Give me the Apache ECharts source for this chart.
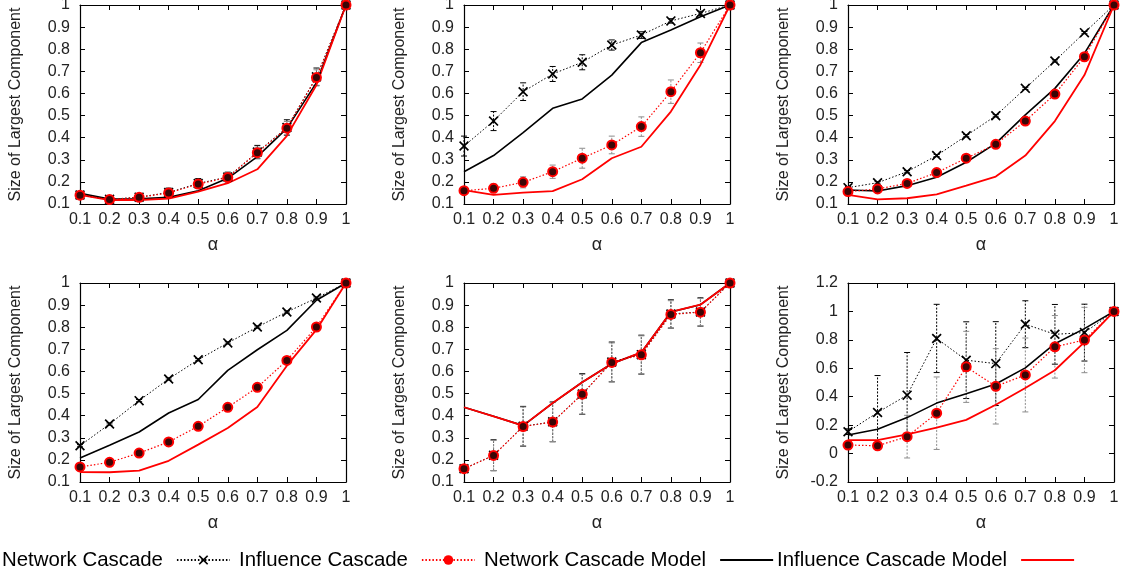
<!DOCTYPE html>
<html>
<head>
<meta charset="utf-8">
<script src="https://cdn.jsdelivr.net/npm/echarts@6/dist/echarts.min.js"></script>
<style>
html, body { margin: 0; padding: 0; background: #fff; }
#chart { width: 1121px; height: 575px; }
</style>
</head>
<body>
<div id="chart"></div>
<script>
// x values shared by every panel
const alpha = [0.1, 0.2, 0.3, 0.4, 0.5, 0.6, 0.7, 0.8, 0.9, 1.0];

// Panel 1
const net1      = [0.141, 0.121, 0.131, 0.152, 0.193, 0.222, 0.335, 0.446, 0.675, 1.0];
const netErr1   = [0.010, 0.015, 0.015, 0.020, 0.022, 0.022, 0.030, 0.035, 0.040, 0];
const inf1      = [0.140, 0.120, 0.130, 0.150, 0.190, 0.220, 0.332, 0.443, 0.672, 1.0];
const infErr1   = [0.008, 0.010, 0.012, 0.015, 0.018, 0.020, 0.025, 0.030, 0.035, 0];
const netModel1 = [0.148, 0.122, 0.124, 0.130, 0.160, 0.216, 0.314, 0.442, 0.649, 1.0];
const infModel1 = [0.141, 0.118, 0.118, 0.124, 0.156, 0.194, 0.257, 0.408, 0.638, 1.0];

// Panel 2
const net2      = [0.362, 0.475, 0.608, 0.688, 0.741, 0.819, 0.864, 0.928, 0.962, 1.0];
const netErr2   = [0.045, 0.043, 0.040, 0.034, 0.034, 0.023, 0.015, 0.010, 0.010, 0];
const inf2      = [0.160, 0.171, 0.198, 0.246, 0.307, 0.367, 0.450, 0.608, 0.784, 1.0];
const infErr2   = [0.010, 0.020, 0.025, 0.030, 0.045, 0.040, 0.044, 0.053, 0.044, 0];
const netModel2 = [0.246, 0.319, 0.423, 0.533, 0.575, 0.683, 0.830, 0.887, 0.947, 1.0];
const infModel2 = [0.163, 0.141, 0.151, 0.158, 0.212, 0.307, 0.359, 0.518, 0.729, 1.0];

// Panel 3
const net3      = [0.174, 0.196, 0.246, 0.319, 0.409, 0.499, 0.623, 0.747, 0.875, 1.0];
const netErr3   = [0.005, 0.005, 0.005, 0.005, 0.005, 0.005, 0.005, 0.005, 0.005, 0];
const inf3      = [0.156, 0.168, 0.193, 0.242, 0.307, 0.370, 0.475, 0.597, 0.766, 1.0];
const infErr3   = [0.005, 0.005, 0.005, 0.005, 0.005, 0.005, 0.005, 0.005, 0.005, 0];
const netModel3 = [0.163, 0.159, 0.183, 0.221, 0.289, 0.374, 0.503, 0.623, 0.781, 1.0];
const infModel3 = [0.141, 0.121, 0.126, 0.144, 0.183, 0.224, 0.319, 0.475, 0.683, 1.0];

// Panel 4
const net4      = [0.264, 0.362, 0.468, 0.566, 0.653, 0.729, 0.801, 0.869, 0.932, 1.0];
const netErr4   = [0.005, 0.005, 0.005, 0.005, 0.005, 0.005, 0.005, 0.005, 0.005, 0];
const inf4      = [0.168, 0.189, 0.231, 0.281, 0.352, 0.438, 0.528, 0.650, 0.801, 1.0];
const infErr4   = [0.005, 0.005, 0.005, 0.005, 0.005, 0.005, 0.005, 0.005, 0.005, 0];
const netModel4 = [0.209, 0.266, 0.326, 0.412, 0.473, 0.605, 0.698, 0.786, 0.922, 1.0];
const infModel4 = [0.145, 0.144, 0.151, 0.196, 0.269, 0.344, 0.439, 0.626, 0.789, 1.0];

// Panel 5
const net5      = [0.160, 0.221, 0.352, 0.372, 0.498, 0.643, 0.676, 0.860, 0.869, 1.0];
const netErr5   = [0.000, 0.070, 0.090, 0.090, 0.092, 0.090, 0.088, 0.064, 0.064, 0];
const inf5      = [0.160, 0.220, 0.351, 0.371, 0.497, 0.641, 0.675, 0.858, 0.868, 1.0];
const infErr5   = [0.000, 0.068, 0.088, 0.088, 0.090, 0.088, 0.086, 0.062, 0.062, 0];
const netModel5 = [0.438, 0.397, 0.355, 0.457, 0.551, 0.635, 0.686, 0.869, 0.902, 1.0];
const infModel5 = [0.438, 0.397, 0.355, 0.457, 0.551, 0.635, 0.686, 0.869, 0.902, 1.0];

// Panel 6
const net6      = [0.154, 0.289, 0.411, 0.810, 0.657, 0.633, 0.910, 0.839, 0.851, 1.0];
const netErr6   = [0.020, 0.260, 0.300, 0.240, 0.270, 0.295, 0.165, 0.210, 0.200, 0];
const inf6      = [0.060, 0.055, 0.119, 0.284, 0.610, 0.473, 0.553, 0.751, 0.799, 1.0];
const infErr6   = [0.020, 0.020, 0.150, 0.255, 0.250, 0.265, 0.260, 0.220, 0.230, 0];
const netModel6 = [0.131, 0.171, 0.253, 0.355, 0.421, 0.489, 0.603, 0.773, 0.879, 1.0];
const infModel6 = [0.095, 0.095, 0.135, 0.182, 0.237, 0.343, 0.461, 0.586, 0.784, 1.0];

// y-axis ranges per panel: [min, max, step]
const yRanges = [
  [0.1, 1, 0.1], [0.1, 1, 0.1], [0.1, 1, 0.1],
  [0.1, 1, 0.1], [0.1, 1, 0.1], [-0.2, 1.2, 0.2]
];

const seriesNames = ['Network Cascade', 'Influence Cascade', 'Network Cascade Model', 'Influence Cascade Model'];
const xAxisTitle = 'α';
const yAxisTitle = 'Size of Largest Component';

const panels = [
  { net: net1, netErr: netErr1, inf: inf1, infErr: infErr1, netModel: netModel1, infModel: infModel1 },
  { net: net2, netErr: netErr2, inf: inf2, infErr: infErr2, netModel: netModel2, infModel: infModel2 },
  { net: net3, netErr: netErr3, inf: inf3, infErr: infErr3, netModel: netModel3, infModel: infModel3 },
  { net: net4, netErr: netErr4, inf: inf4, infErr: infErr4, netModel: netModel4, infModel: infModel4 },
  { net: net5, netErr: netErr5, inf: inf5, infErr: infErr5, netModel: netModel5, infModel: infModel5 },
  { net: net6, netErr: netErr6, inf: inf6, infErr: infErr6, netModel: netModel6, infModel: infModel6 }
];

const FONT = 'Liberation Sans, Arial, sans-serif';
const RED = '#ff0000';
const CROSS = 'path://M0,1.2 L1.2,0 L5,3.8 L8.8,0 L10,1.2 L6.2,5 L10,8.8 L8.8,10 L5,6.2 L1.2,10 L0,8.8 L3.8,5 Z';

const colLeft = [80, 464, 848];
const rowTop = [5, 283];
const gridW = 266, gridH = 199;

function pairs(ys) { return alpha.map((a, i) => [a, ys[i]]); }
function triples(ys, es) { return alpha.map((a, i) => [a, ys[i], es[i]]); }

function errorBars(color) {
  return function (params, api) {
    const x = api.value(0), y = api.value(1), e = api.value(2);
    if (!e) return null;
    const lo = api.coord([x, y - e]);
    const hi = api.coord([x, y + e]);
    const w = 3;
    return {
      type: 'group',
      children: [
        { type: 'line', shape: { x1: lo[0], y1: lo[1], x2: hi[0], y2: hi[1] },
          style: { stroke: color, lineWidth: 1, lineDash: [2, 1.5] } },
        { type: 'line', shape: { x1: lo[0] - w, y1: lo[1], x2: lo[0] + w, y2: lo[1] },
          style: { stroke: color, lineWidth: 1 } },
        { type: 'line', shape: { x1: hi[0] - w, y1: hi[1], x2: hi[0] + w, y2: hi[1] },
          style: { stroke: color, lineWidth: 1 } }
      ]
    };
  };
}

const grid = [], xAxis = [], yAxis = [], series = [];
const axisLineStyle = { onZero: false, lineStyle: { color: '#000', width: 1.2 } };
const tickStyle = { show: true, inside: true, length: 5, lineStyle: { color: '#000', width: 1 } };
const labelText = { color: '#222', fontSize: 16, fontFamily: FONT };

panels.forEach((p, k) => {
  const col = k % 3, row = Math.floor(k / 3);
  grid.push({ left: colLeft[col], top: rowTop[row], width: gridW, height: gridH, outerBoundsMode: 'none', containLabel: false });
  const [ymin, ymax, ystep] = yRanges[k];
  // bottom x axis with labels
  xAxis.push({
    type: 'value', gridIndex: k, position: 'bottom', min: 0.1, max: 1, interval: 0.1,
    axisLine: axisLineStyle, axisTick: tickStyle, splitLine: { show: false },
    axisLabel: Object.assign({ margin: 8, showMinLabel: true, showMaxLabel: true, hideOverlap: false }, labelText),
    name: xAxisTitle, nameLocation: 'middle', nameGap: 32, nameMoveOverlap: false,
    nameTextStyle: { color: '#222', fontSize: 18, fontFamily: FONT }
  });
  // top x axis: frame edge with mirrored ticks
  xAxis.push({
    type: 'value', gridIndex: k, position: 'top', min: 0.1, max: 1, interval: 0.1,
    axisLine: axisLineStyle, axisTick: tickStyle, splitLine: { show: false },
    axisLabel: { show: false }
  });
  // left y axis with labels
  yAxis.push({
    type: 'value', gridIndex: k, position: 'left', min: ymin, max: ymax, interval: ystep,
    axisLine: axisLineStyle, axisTick: tickStyle, splitLine: { show: false },
    axisLabel: Object.assign({ margin: 10, showMinLabel: true, showMaxLabel: true, hideOverlap: false }, labelText),
    name: yAxisTitle, nameLocation: 'middle', nameGap: 56, nameRotate: 90, nameMoveOverlap: false,
    nameTextStyle: { color: '#222', fontSize: 16, fontFamily: FONT }
  });
  // right y axis: frame edge with mirrored ticks
  yAxis.push({
    type: 'value', gridIndex: k, position: 'right', min: ymin, max: ymax, interval: ystep,
    axisLine: axisLineStyle, axisTick: tickStyle, splitLine: { show: false },
    axisLabel: { show: false }
  });

  const xi = 2 * k, yi = 2 * k;
  series.push({
    type: 'custom', name: 'net-err-' + k, xAxisIndex: xi, yAxisIndex: yi,
    renderItem: errorBars('#000'), data: triples(p.net, p.netErr), encode: { x: 0, y: 1 }, z: 1, silent: true
  });
  series.push({
    type: 'custom', name: 'inf-err-' + k, xAxisIndex: xi, yAxisIndex: yi,
    renderItem: errorBars('#8c8c8c'), data: triples(p.inf, p.infErr), encode: { x: 0, y: 1 }, z: 1, silent: true
  });
  series.push({
    type: 'line', name: seriesNames[0], xAxisIndex: xi, yAxisIndex: yi, data: pairs(p.net),
    symbol: CROSS, symbolSize: 10, showAllSymbol: true,
    lineStyle: { color: '#000', width: 1, type: [1.5, 2] },
    itemStyle: { color: '#000' }, z: 3
  });
  series.push({
    type: 'line', name: seriesNames[1], xAxisIndex: xi, yAxisIndex: yi, data: pairs(p.inf),
    symbol: 'circle', symbolSize: 9, showAllSymbol: true,
    lineStyle: { color: RED, width: 1.2, type: [1.5, 2] },
    itemStyle: { color: '#3a0606', borderColor: RED, borderWidth: 2 }, z: 4
  });
  series.push({
    type: 'line', name: seriesNames[2], xAxisIndex: xi, yAxisIndex: yi, data: pairs(p.netModel),
    symbol: 'none', lineStyle: { color: '#000', width: 1.6 }, itemStyle: { color: '#000' }, z: 2
  });
  series.push({
    type: 'line', name: seriesNames[3], xAxisIndex: xi, yAxisIndex: yi, data: pairs(p.infModel),
    symbol: 'none', lineStyle: { color: RED, width: 1.8 }, itemStyle: { color: RED }, z: 2
  });
});

// four legend entries along the bottom, label followed by its line sample
const legendLefts = [2, 239, 484, 777];
const legendText = { color: '#000', fontSize: 20.4, fontFamily: FONT, padding: [0, 9, 0, 0] };
const legend = [
  { data: [{ name: seriesNames[0] }], itemWidth: 53, itemHeight: 12 },
  { data: [{ name: seriesNames[1], itemStyle: { color: RED, borderColor: RED, borderWidth: 0 } }], itemWidth: 53, itemHeight: 12 },
  { data: [{ name: seriesNames[2], icon: 'rect', itemStyle: { color: '#000' } }], itemWidth: 53, itemHeight: 2 },
  { data: [{ name: seriesNames[3], icon: 'rect', itemStyle: { color: RED } }], itemWidth: 53, itemHeight: 2 }
].map((l, i) => Object.assign(l, {
  left: legendLefts[i], top: 550, padding: 0, align: 'right', orient: 'horizontal',
  selectedMode: false, textStyle: legendText
}));

const chart = echarts.init(document.getElementById('chart'), null, { renderer: 'canvas' });
chart.setOption({
  animation: false,
  backgroundColor: '#fff',
  grid, xAxis, yAxis, series, legend
});
</script>
</body>
</html>
